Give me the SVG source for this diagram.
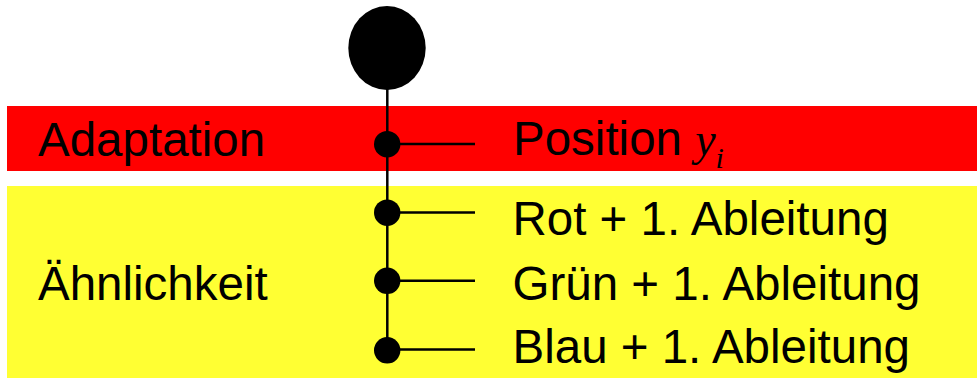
<svg xmlns="http://www.w3.org/2000/svg" width="977" height="382" viewBox="0 0 977 382">
<style>
.t{font-family:"Liberation Sans",Arial,sans-serif;font-size:47.5px;fill:#000}
.m{font-family:"Liberation Serif","Times New Roman",serif;font-style:italic;fill:#000}
.ln{stroke:#000;stroke-width:2.5;fill:none}
.dot{fill:#000}
</style>
<g id="bands">
<rect x="7" y="106" width="970" height="65" fill="#FF0000"/>
<rect x="7" y="186" width="970" height="192" fill="#FFFF33"/>
</g>
<g id="connectors">
<line class="ln" x1="387.3" y1="88" x2="387.3" y2="350"/>
<line class="ln" x1="387" y1="144" x2="475" y2="144"/>
<line class="ln" x1="387" y1="212.5" x2="475" y2="212.5"/>
<line class="ln" x1="387" y1="280.7" x2="475" y2="280.7"/>
<line class="ln" x1="387" y1="349.5" x2="475" y2="349.5"/>
</g>
<g id="root"><ellipse class="dot" cx="387" cy="48" rx="38.7" ry="42"/></g>
<g id="n1"><circle class="dot" cx="387.2" cy="144.2" r="13.2"/><text class="t" x="513" y="155">Position <tspan class="m" font-size="46">y</tspan><tspan class="m" font-size="30" dy="13">i</tspan></text></g>
<g id="n2"><circle class="dot" cx="387.2" cy="212.7" r="13.2"/><text class="t" x="512.5" y="235">Rot + 1. Ableitung</text></g>
<g id="n3"><circle class="dot" cx="387.2" cy="280.8" r="13.2"/><text class="t" x="512.5" y="300">Grün + 1. Ableitung</text></g>
<g id="n4"><circle class="dot" cx="387.2" cy="350.3" r="13.2"/><text class="t" x="512.5" y="363">Blau + 1. Ableitung</text></g>
<g id="labels">
<text class="t" x="38" y="156">Adaptation</text>
<text class="t" x="38" y="300">Ähnlichkeit</text>
</g>
</svg>
